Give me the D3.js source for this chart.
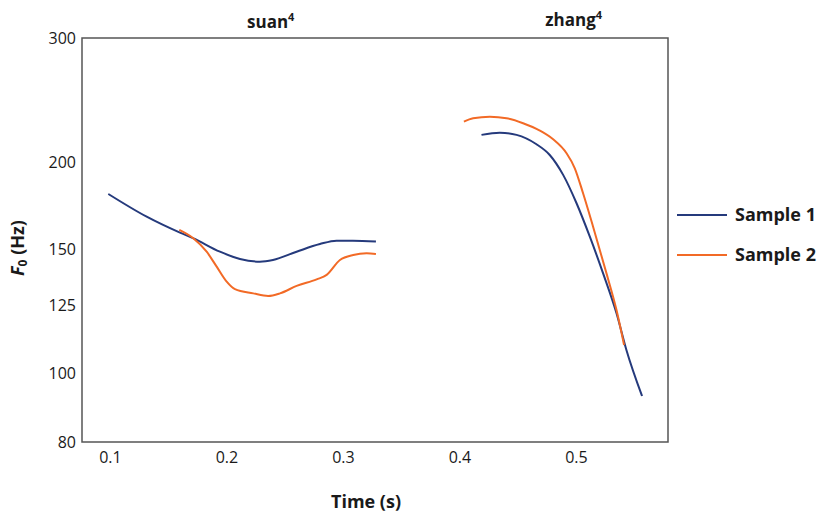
<!DOCTYPE html>
<html>
<head>
<meta charset="utf-8">
<script src="https://cdn.jsdelivr.net/npm/d3@7"></script>
<style>
  body { margin: 0; background: #fff; }
  svg text { font-family: "Open Sans", "Noto Sans", sans-serif; fill: #1a1a1a; }
</style>
</head>
<body>
<div id="chart"></div>
<script>
// F0 contours, time in seconds, F0 in Hz
var s1SuanT = [0.0986, 0.1315, 0.1601, 0.1712, 0.1944, 0.2116, 0.2287, 0.2399, 0.2602, 0.2802, 0.2945, 0.3085, 0.3283];
var s1SuanF = [180.1, 167.2, 158.7, 155.9, 149.1, 145.6, 144.3, 145.1, 149.1, 152.9, 154.6, 154.6, 154.1];
var s2SuanT = [0.1595, 0.1715, 0.1830, 0.1916, 0.2002, 0.2073, 0.2230, 0.2358, 0.2459, 0.2602, 0.2774, 0.2860, 0.2974, 0.3088, 0.3203, 0.3283];
var s2SuanF = [160.1, 155.8, 149.1, 142.0, 135.2, 131.9, 130.1, 129.0, 130.1, 133.3, 136.2, 138.2, 145.1, 147.5, 148.3, 148.0];
var s1ZhangT = [0.4189, 0.4346, 0.4490, 0.4661, 0.4775, 0.4890, 0.5005, 0.5119, 0.5233, 0.5348, 0.5433, 0.5567];
var s1ZhangF = [218.5, 220.1, 218.5, 211.9, 204.6, 191.7, 174.7, 156.6, 138.9, 121.9, 108.1, 93.0];
var s2ZhangT = [0.4038, 0.4117, 0.4261, 0.4404, 0.4546, 0.4690, 0.4804, 0.4919, 0.4990, 0.5061, 0.5147, 0.5262, 0.5348, 0.5413];
var s2ZhangF = [228.2, 230.7, 231.9, 230.7, 227.0, 221.6, 215.4, 205.8, 195.9, 180.5, 161.8, 138.9, 123.2, 109.9];

var xTicks = [0.1, 0.2, 0.3, 0.4, 0.5];
var yTicks = [80, 100, 125, 150, 200, 300];
var seriesNames = ["Sample 1", "Sample 2"];
var seriesColors = ["#253a7c", "#f26a26"];
var syllables = ["suan", "zhang"];
var syllableTone = ["4", "4"];
var syllableCenter = [0.238, 0.498];

var width = 822, height = 512;
var margin = { top: 38, right: 154, bottom: 70, left: 82 };

var svg = d3.select("#chart").append("svg")
  .attr("width", width)
  .attr("height", height);

var x = d3.scaleLinear().domain([0.076, 0.579]).range([margin.left, width - margin.right]);
var y = d3.scaleLog().domain([80, 300]).range([height - margin.bottom, margin.top]);

// frame
svg.append("rect")
  .attr("x", x.range()[0])
  .attr("y", y.range()[1])
  .attr("width", x.range()[1] - x.range()[0])
  .attr("height", y.range()[0] - y.range()[1])
  .attr("fill", "none")
  .attr("stroke", "#555")
  .attr("stroke-width", 1.5);

// axes (labels only, no tick marks)
var xAxis = svg.append("g")
  .attr("transform", `translate(0,${y.range()[0]})`)
  .call(d3.axisBottom(x).tickValues(xTicks).tickSize(0).tickPadding(10).tickFormat(d3.format(".1f")));
xAxis.select(".domain").remove();
xAxis.selectAll("text").attr("font-size", 16).style("font-family", "Open Sans, sans-serif").attr("fill", "#1a1a1a");

var yAxis = svg.append("g")
  .attr("transform", `translate(${x.range()[0]},0)`)
  .call(d3.axisLeft(y).tickValues(yTicks).tickSize(0).tickPadding(6).tickFormat(d3.format("d")));
yAxis.select(".domain").remove();
yAxis.selectAll("text").attr("font-size", 16).style("font-family", "Open Sans, sans-serif").attr("fill", "#1a1a1a");

// contours
var line = d3.line()
  .x(function (d) { return x(d[0]); })
  .y(function (d) { return y(d[1]); })
  .curve(d3.curveMonotoneX);

var contours = [
  { t: s1SuanT, f: s1SuanF, c: 0 },
  { t: s2SuanT, f: s2SuanF, c: 1 },
  { t: s1ZhangT, f: s1ZhangF, c: 0 },
  { t: s2ZhangT, f: s2ZhangF, c: 1 }
];

svg.append("g").selectAll("path")
  .data(contours)
  .enter()
  .append("path")
  .attr("d", function (d) { return line(d3.zip(d.t, d.f)); })
  .attr("fill", "none")
  .attr("stroke", function (d) { return seriesColors[d.c]; })
  .attr("stroke-width", 2);

// syllable titles
var titles = svg.append("g").selectAll("text")
  .data(syllables)
  .enter()
  .append("text")
  .attr("x", function (d, i) { return x(syllableCenter[i]); })
  .attr("y", function (d, i) { return i === 0 ? 28 : 26; })
  .attr("text-anchor", "middle")
  .attr("font-size", 17)
  .attr("font-weight", "bold");
titles.append("tspan").text(function (d) { return d; });
titles.append("tspan")
  .attr("font-size", 11)
  .attr("dy", -7)
  .text(function (d, i) { return syllableTone[i]; });

// legend
var legend = svg.append("g").selectAll("g")
  .data(seriesNames)
  .enter()
  .append("g")
  .attr("transform", function (d, i) { return `translate(677,${215 + i * 40})`; });
legend.append("line")
  .attr("x1", 0).attr("x2", 50)
  .attr("stroke", function (d, i) { return seriesColors[i]; })
  .attr("stroke-width", 2);
legend.append("text")
  .attr("x", 58)
  .attr("dy", "0.35em")
  .attr("font-size", 18)
  .attr("font-weight", "bold")
  .text(function (d) { return d; });

// axis titles
svg.append("text")
  .attr("x", 366)
  .attr("y", 508)
  .attr("text-anchor", "middle")
  .attr("font-size", 18)
  .attr("font-weight", "bold")
  .text("Time (s)");

var yTitle = svg.append("text")
  .attr("transform", "translate(24,248) rotate(-90)")
  .attr("text-anchor", "middle")
  .attr("font-size", 18)
  .attr("font-weight", "bold");
yTitle.append("tspan").attr("font-style", "italic").text("F");
yTitle.append("tspan").attr("font-size", 12).attr("dy", 3).text("0");
yTitle.append("tspan").attr("dy", -3).text(" (Hz)");
</script>
</body>
</html>
